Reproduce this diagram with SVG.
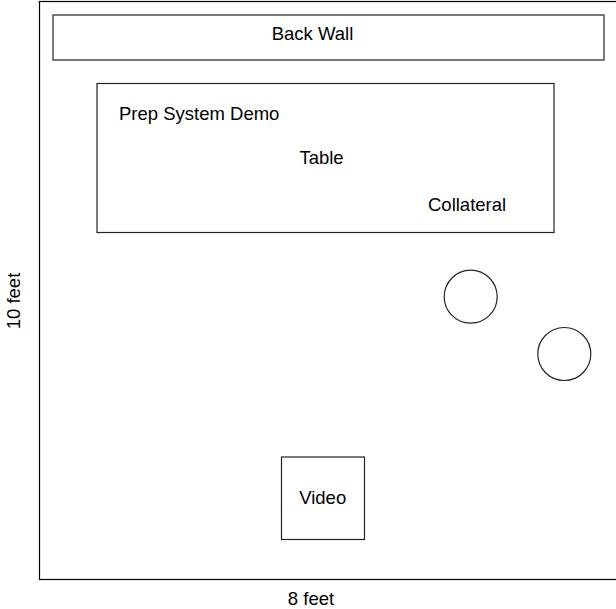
<svg xmlns="http://www.w3.org/2000/svg" width="616" height="609" viewBox="0 0 616 609">
<style>
.shape{fill:#fff;stroke:#222;stroke-width:1.2}
.frame{fill:none;stroke:#000;stroke-width:1.2}
.lbl{font-family:"Liberation Sans",Arial,sans-serif;font-size:18.5px;fill:#000}
</style>
<rect width="616" height="609" fill="#fff"/>
<g id="room"><rect class="frame" x="39.5" y="1.5" width="590" height="578"/></g>
<g id="back-wall"><rect class="shape" x="53" y="15" width="551" height="45"/><text class="lbl" x="312.5" y="40" text-anchor="middle">Back Wall</text></g>
<g id="table"><rect class="shape" x="97" y="83.5" width="457" height="149"/>
<text class="lbl" x="119" y="120">Prep System Demo</text>
<text class="lbl" x="321.5" y="163.5" text-anchor="middle">Table</text>
<text class="lbl" x="428" y="211">Collateral</text></g>
<g id="circle1"><circle class="shape" cx="470.7" cy="296.7" r="26.5"/></g>
<g id="circle2"><circle class="shape" cx="564.3" cy="354" r="26.5"/></g>
<g id="video"><rect class="shape" x="281.5" y="457" width="83" height="82.5"/><text class="lbl" x="322.7" y="504" text-anchor="middle">Video</text></g>
<g id="dims">
<text class="lbl" x="311" y="605" text-anchor="middle">8 feet</text>
<text class="lbl" transform="translate(20,301) rotate(-90)" text-anchor="middle">10 feet</text>
</g>
<g id="connectors"></g>
</svg>
